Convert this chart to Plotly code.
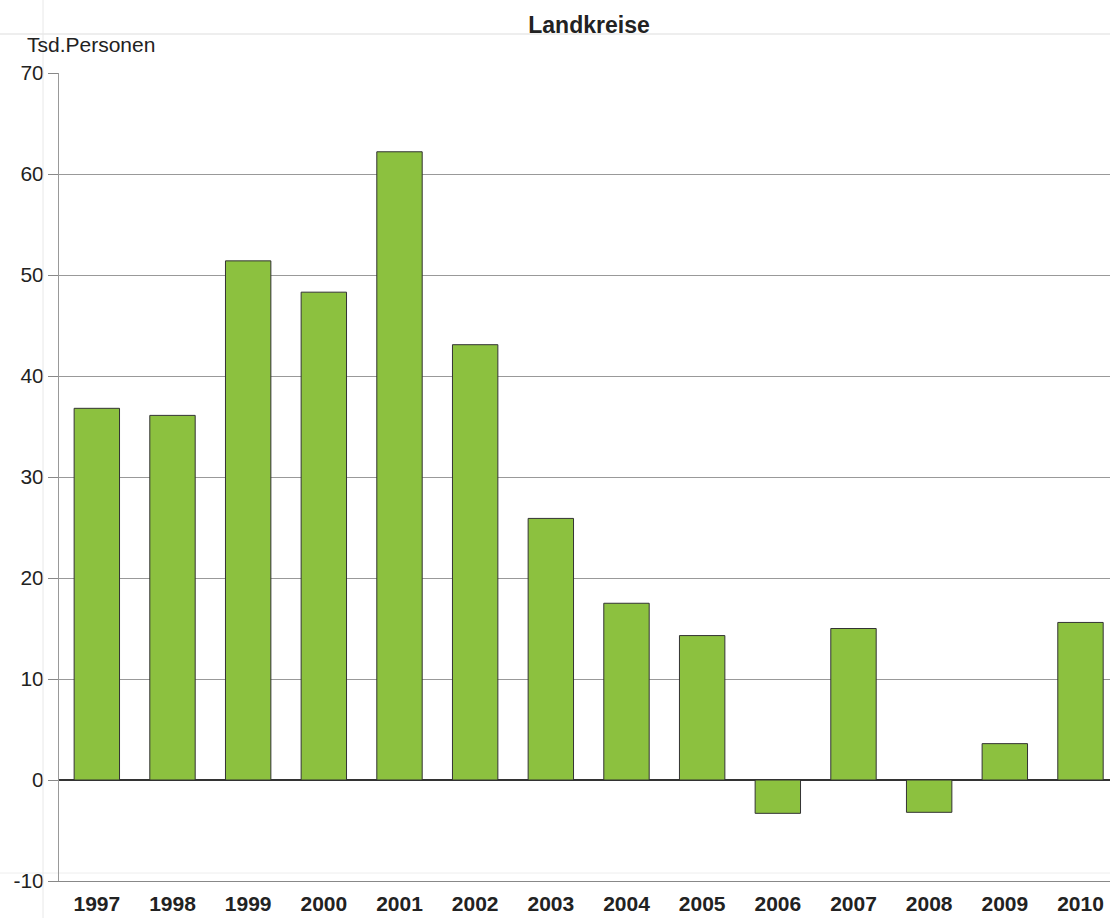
import plotly.graph_objects as go

years = ["1997", "1998", "1999", "2000", "2001", "2002", "2003",
         "2004", "2005", "2006", "2007", "2008", "2009", "2010"]
values = [36.8, 36.1, 51.4, 48.3, 62.2, 43.1, 25.9,
          17.5, 14.3, -3.3, 15.0, -3.2, 3.6, 15.6]
y_ticks = [-10, 0, 10, 20, 30, 40, 50, 60, 70]
y_tick_labels = [str(v) for v in y_ticks]

FONT = "Liberation Sans, Arial, Helvetica, sans-serif"
W, H = 1110, 918
L, R, T, B = 59, 0, 73, 37
PW, PH = W - L - R, H - T - B

fig = go.Figure()
fig.add_trace(go.Bar(
    x=years, y=values,
    marker=dict(color="#8cc13f", line=dict(color="#333333", width=1)),
    width=0.6,
    hoverinfo="x+y",
))

fig.update_layout(
    width=W, height=H,
    margin=dict(l=L, r=R, t=T, b=B),
    paper_bgcolor="white", plot_bgcolor="white",
    showlegend=False,
    font=dict(family=FONT, color="#222222", size=21),
    title=dict(text="<b>Landkreise</b>", x=589 / W, xanchor="center",
               y=1 - 25 / H, yanchor="middle",
               font=dict(family=FONT, size=23, color="#222222")),
)

fig.update_xaxes(
    type="category",
    range=[-0.5, 13.39],
    showgrid=False,
    showline=True, linecolor="#888888", linewidth=1,
    ticks="", tickfont=dict(family=FONT, size=21, color="#222222", weight="bold"),
    ticklabelstandoff=4,
)

fig.update_yaxes(
    range=[-10, 70],
    tickvals=y_ticks, ticktext=y_tick_labels,
    showgrid=True, gridcolor="#999999", gridwidth=1,
    showline=True, linecolor="#999999", linewidth=1,
    ticks="outside", ticklen=10, tickcolor="#888888",
    tickfont=dict(family=FONT, size=21, color="#222222"),
    ticklabelstandoff=0,
    zeroline=True, zerolinecolor="#333333", zerolinewidth=2,
)

fig.add_annotation(
    text="Tsd.Personen", xref="paper", yref="paper",
    x=(25 - L) / PW, y=1 + (T - 45) / PH,
    xanchor="left", yanchor="middle", showarrow=False,
    font=dict(family=FONT, size=21, color="#222222"),
)

# faint page guide lines
fig.add_shape(type="line", xref="paper", yref="paper",
              x0=-L / PW, x1=1, y0=1 + (T - 34) / PH, y1=1 + (T - 34) / PH,
              line=dict(color="#eeeeee", width=2))
fig.add_shape(type="line", xref="paper", yref="paper",
              x0=(43 - L) / PW, x1=(43 - L) / PW, y0=-B / PH, y1=1 + T / PH,
              line=dict(color="#e8e8e8", width=1))
fig.add_shape(type="line", xref="paper", yref="paper",
              x0=-L / PW, x1=1, y0=8 / PH, y1=8 / PH,
              line=dict(color="#eeeeee", width=1), layer="below")

fig.write_html(
    "out.html",
    config={"displayModeBar": False},
    post_script="document.body.style.margin='0';document.body.style.overflow='hidden';",
)
